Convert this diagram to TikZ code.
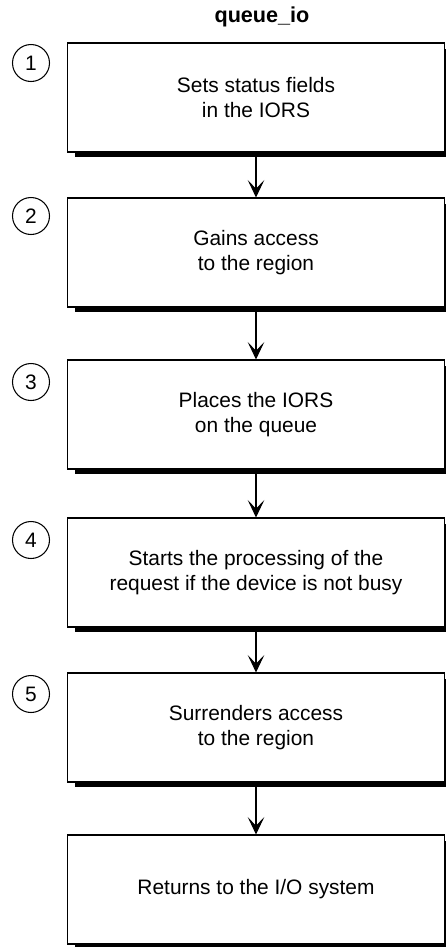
\documentclass[tikz,border=0pt]{standalone}
\usepackage{fontspec}
\setmainfont{Liberation Sans}
\usetikzlibrary{arrows.meta,shadows}

\tikzset{
  stepbox/.style={draw,line width=0.6pt,fill=white,minimum width=7.56cm,minimum height=2.18cm,
    align=center,inner sep=0pt,font=\fontsize{11.9}{14.2}\selectfont,
    drop shadow={shadow xshift=0.16cm,shadow yshift=-0.11cm,fill=black,opacity=1}},
  numcirc/.style={draw,circle,line width=0.6pt,minimum size=0.74cm,inner sep=0pt,
    font=\fontsize{11.9}{14.2}\selectfont},
  flow/.style={line width=0.6pt,-{Stealth[length=10pt,width=9.5pt,inset=5pt]}}
}

\begin{document}
\begin{tikzpicture}[x=0.02cm,y=-0.02cm]
            \def\bx{256}
            \def\cx{31}
            \useasboundingbox (0,0) rectangle (446,947);
            \node[font=\bfseries\fontsize{12.3}{14}\selectfont] (title) at (262,17) {queue\_io};
            % steps
            \node[stepbox] (s1) at (\bx,97.5) {Sets status fields\\in the IORS};
            \node[stepbox] (s2) at (\bx,252.5) {Gains access\\to the region};
            \node[stepbox] (s3) at (\bx,414.5) {Places the IORS\\on the queue};
            \node[stepbox] (s4) at (\bx,572.5) {Starts the processing of the\\request if the device is not busy};
            \node[stepbox] (s5) at (\bx,727.5) {Surrenders access\\to the region};
            \node[stepbox] (s6) at (\bx,889.5) {Returns to the I/O system};
            % numbers
            \node[numcirc] (n1) at (\cx,63) {1};
            \node[numcirc] (n2) at (\cx,216) {2};
            \node[numcirc] (n3) at (\cx,382) {3};
            \node[numcirc] (n4) at (\cx,540) {4};
            \node[numcirc] (n5) at (\cx,694) {5};
            % arrows
            \draw[flow] (s1) -- (s2);
            \draw[flow] (s2) -- (s3);
            \draw[flow] (s3) -- (s4);
            \draw[flow] (s4) -- (s5);
            \draw[flow] (s5) -- (s6);
\end{tikzpicture}
\end{document}
